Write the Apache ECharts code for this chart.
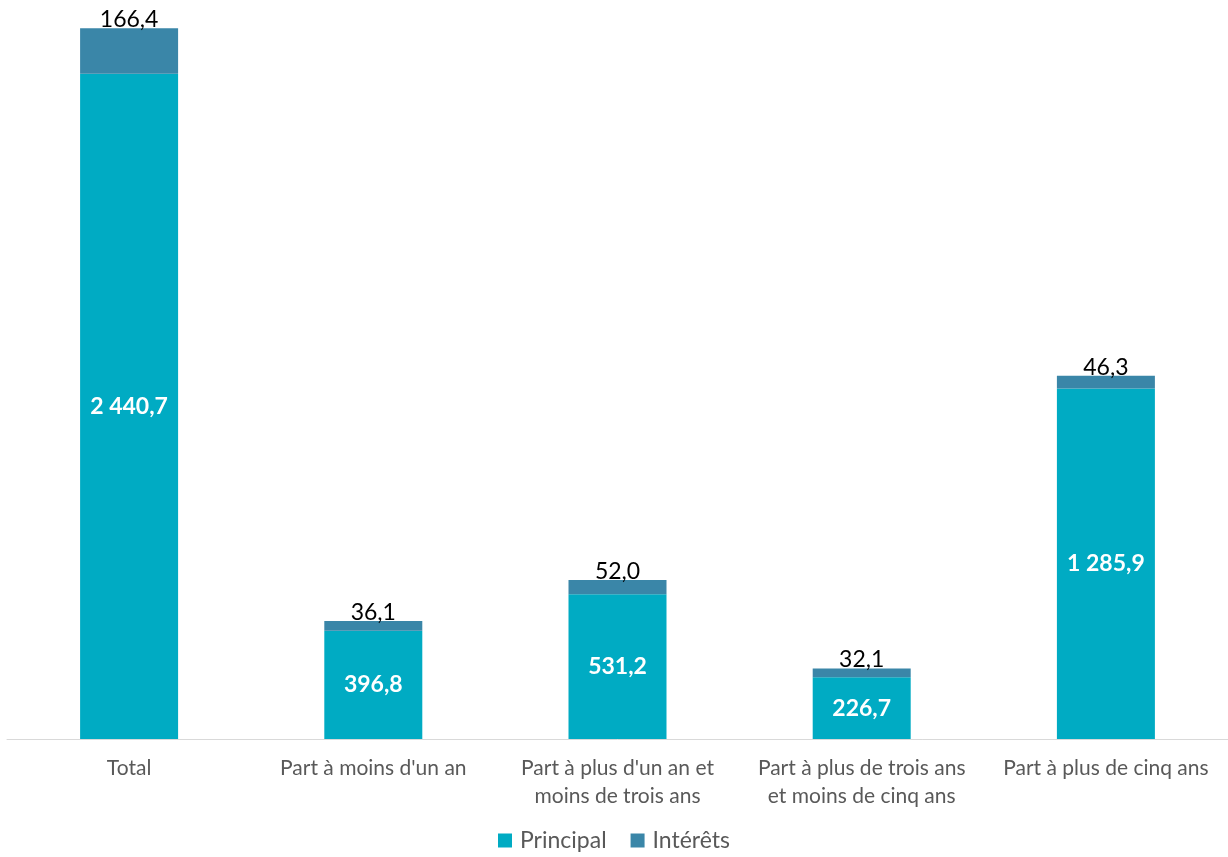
<!DOCTYPE html>
<html>
<head>
<meta charset="utf-8">
<script src="https://cdn.jsdelivr.net/npm/echarts@6/dist/echarts.min.js"></script>
<style>html,body{margin:0;padding:0;background:#fff}#c{width:1228px;height:857px}</style>
</head>
<body>
<div id="c"></div>
<script>
const categories = ["Total", "Part à moins d'un an", "Part à plus d'un an et\nmoins de trois ans", "Part à plus de trois ans\net moins de cinq ans", "Part à plus de cinq ans"];
const principal = [2440.7, 396.8, 531.2, 226.7, 1285.9];
const interets = [166.4, 36.1, 52.0, 32.1, 46.3];

const fmt = v => v.toFixed(1).replace('.', ',').replace(/\B(?=(\d{3})+(?!\d))/g, ' ');
const FONT = 'Lato, "Open Sans", sans-serif';

const chart = echarts.init(document.getElementById('c'), null, {renderer: 'canvas'});
chart.setOption({
  animation: false,
  textStyle: {fontFamily: FONT},
  grid: {left: 7, right: 0, top: 3, bottom: 118, containLabel: false},
  legend: {
    bottom: 0, left: 'center',
    itemWidth: 14, itemHeight: 14, itemGap: 24,
    icon: 'rect',
    textStyle: {fontSize: 23, color: '#595959', fontFamily: FONT, padding: [0, 0, 0, 3]},
    data: ['Principal', 'Intérêts']
  },
  xAxis: {
    type: 'category', data: categories,
    axisLine: {lineStyle: {color: '#d9d9d9', width: 1}},
    axisTick: {show: false},
    axisLabel: {fontSize: 21, color: '#595959', lineHeight: 28, margin: 15, interval: 0}
  },
  yAxis: {
    type: 'value', min: 0, max: 2700,
    show: false, splitLine: {show: false}
  },
  series: [
    {
      name: 'Principal', type: 'bar', stack: 's', data: principal,
      barWidth: 98,
      itemStyle: {color: '#00abc3'},
      label: {show: true, position: 'inside', color: '#fff', fontWeight: 'bold', fontSize: 23,
        formatter: p => fmt(p.value)}
    },
    {
      name: 'Intérêts', type: 'bar', stack: 's', data: interets,
      barWidth: 98,
      itemStyle: {color: '#3a86a8'},
      label: {show: true, position: 'top', distance: -3, color: '#000', fontSize: 23,
        formatter: p => fmt(p.value)}
    }
  ]
});
</script>
</body>
</html>
